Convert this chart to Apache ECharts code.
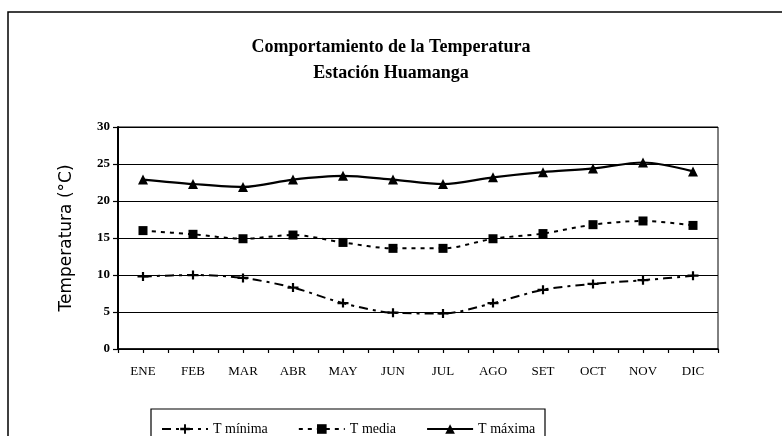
<!DOCTYPE html>
<html>
<head>
<meta charset="utf-8">
<script src="https://cdn.jsdelivr.net/npm/echarts@6/dist/echarts.min.js"></script>
<style>
html,body{margin:0;padding:0;background:#fff;}
#chart{width:782px;height:436px;}
</style>
</head>
<body>
<div id="chart"></div>
<script>
const months = ['ENE','FEB','MAR','ABR','MAY','JUN','JUL','AGO','SET','OCT','NOV','DIC'];
const tMinima = [9.8, 10.0, 9.6, 8.3, 6.2, 4.9, 4.8, 6.2, 8.0, 8.8, 9.3, 9.9];
const tMedia = [16.0, 15.5, 14.9, 15.4, 14.4, 13.6, 13.6, 14.9, 15.6, 16.8, 17.3, 16.7];
const tMaxima = [22.9, 22.3, 21.9, 22.9, 23.4, 22.9, 22.3, 23.2, 23.9, 24.4, 25.2, 24.0];
const seriesNames = ['T mínima', 'T media', 'T máxima'];
const titleLines = ['Comportamiento de la Temperatura', 'Estación Huamanga'];
const yAxisName = 'Temperatura (°C)';

const serif = '"Liberation Serif", "Times New Roman", serif';
const halfTicks = [];
months.forEach(() => { halfTicks.push(''); halfTicks.push(''); });

const chart = echarts.init(document.getElementById('chart'), null, {renderer: 'canvas'});
chart.setOption({
  backgroundColor: '#fff',
  animation: false,
  title: {
    text: titleLines.join('\n'),
    left: 'center',
    top: 29,
    textStyle: {fontFamily: serif, fontWeight: 'bold', fontSize: 18, lineHeight: 26, color: '#000'}
  },
  graphic: [
    {type: 'rect', shape: {x: 8, y: 12, width: 820, height: 500}, style: {fill: 'none', stroke: '#000', lineWidth: 1.5}, silent: true},
    {type: 'rect', shape: {x: 151, y: 409, width: 394, height: 60}, style: {fill: 'none', stroke: '#000', lineWidth: 1.2}, silent: true}
  ],
  legend: {
    left: 156,
    top: 417,
    itemWidth: 46,
    itemHeight: 12,
    itemGap: 30,
    textStyle: {fontFamily: serif, fontSize: 14, color: '#000'},
    data: seriesNames
  },
  grid: {left: 118, right: 64, top: 127, bottom: 87, show: true, borderColor: '#000', borderWidth: 1, backgroundColor: 'transparent'},
  xAxis: [
    {
      type: 'category',
      data: months,
      boundaryGap: true,
      axisLine: {lineStyle: {color: '#000', width: 1.5}},
      axisTick: {show: false},
      axisLabel: {fontFamily: serif, fontSize: 13, color: '#000', margin: 16, interval: 0}
    },
    {
      type: 'category',
      position: 'bottom',
      data: halfTicks,
      boundaryGap: true,
      axisLine: {show: false},
      axisTick: {show: true, length: 4, lineStyle: {color: '#000', width: 1.2}, interval: 0},
      axisLabel: {show: false}
    }
  ],
  yAxis: {
    type: 'value',
    min: 0,
    max: 30,
    interval: 5,
    name: yAxisName,
    nameLocation: 'middle',
    nameGap: 43,
    nameTextStyle: {fontFamily: '"DejaVu Sans", sans-serif', fontSize: 17, color: '#000'},
    axisLine: {show: true, lineStyle: {color: '#000', width: 2}},
    axisTick: {show: true, length: 5, lineStyle: {color: '#000', width: 1.2}},
    axisLabel: {fontFamily: serif, fontWeight: 'bold', fontSize: 13, color: '#000', margin: 8},
    splitLine: {lineStyle: {color: '#000', width: 1}}
  },
  series: [
    {
      name: seriesNames[0],
      type: 'line',
      data: tMinima,
      smooth: 0.3,
      symbol: 'path://M0,4L10,4L10,6L0,6Z M4,1L6,1L6,9L4,9Z',
      symbolSize: [11, 9],
      itemStyle: {color: '#000'},
      lineStyle: {color: '#000', width: 2, type: [9, 5, 3, 5]}
    },
    {
      name: seriesNames[1],
      type: 'line',
      data: tMedia,
      smooth: 0.3,
      symbol: 'rect',
      symbolSize: 9,
      itemStyle: {color: '#000'},
      lineStyle: {color: '#000', width: 2, type: [4, 5]}
    },
    {
      name: seriesNames[2],
      type: 'line',
      data: tMaxima,
      smooth: 0.3,
      symbol: 'triangle',
      symbolSize: 10,
      itemStyle: {color: '#000'},
      lineStyle: {color: '#000', width: 2.2}
    }
  ]
});
</script>
</body>
</html>
